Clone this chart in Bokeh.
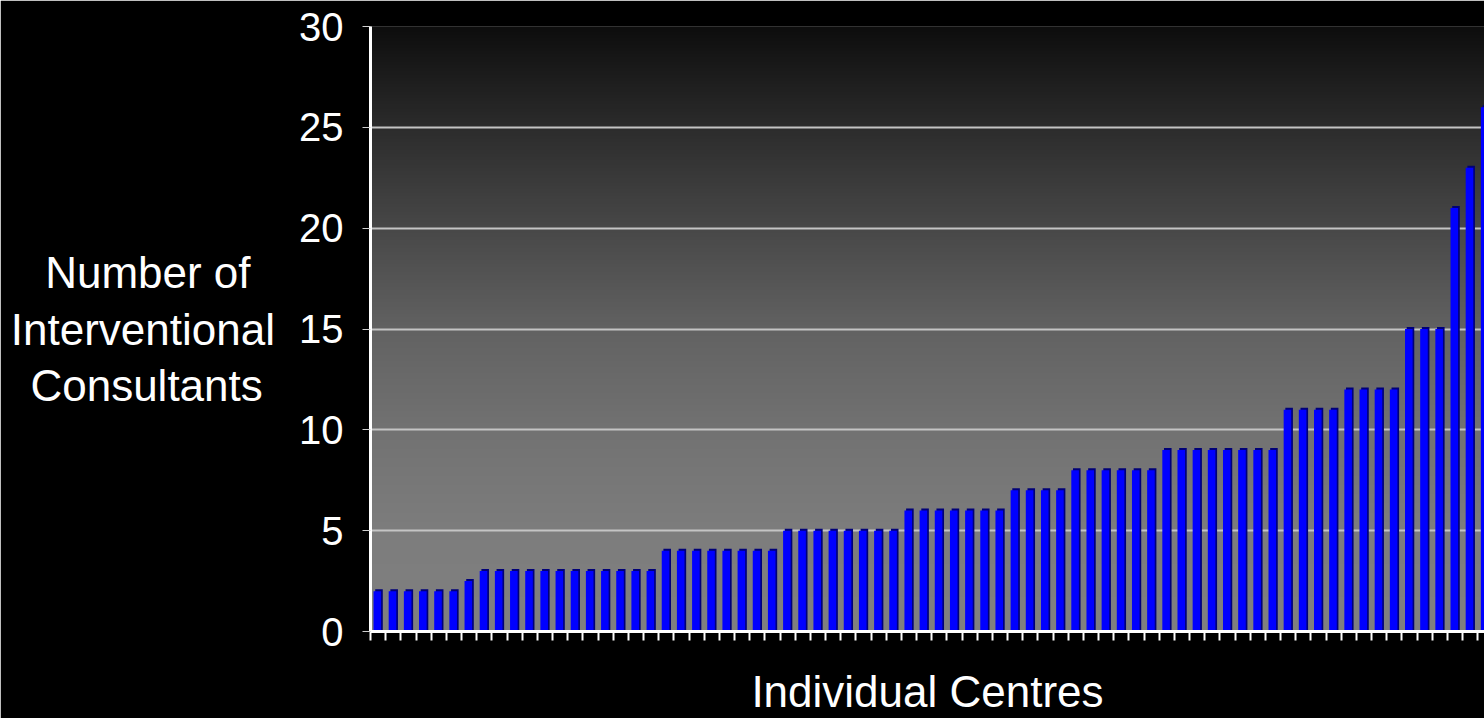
import numpy as np
from bokeh.plotting import figure
from bokeh.models import Range1d, FixedTicker, ColumnDataSource
from bokeh.embed import file_html
from bokeh.resources import INLINE

# ---- data -------------------------------------------------------------
consultants = [2, 2, 2, 2, 2, 2, 2.5,
               3, 3, 3, 3, 3, 3, 3, 3, 3, 3, 3, 3,
               4, 4, 4, 4, 4, 4, 4, 4,
               5, 5, 5, 5, 5, 5, 5, 5,
               6, 6, 6, 6, 6, 6, 6,
               7, 7, 7, 7,
               8, 8, 8, 8, 8, 8,
               9, 9, 9, 9, 9, 9, 9, 9,
               11, 11, 11, 11,
               12, 12, 12, 12,
               15, 15, 15,
               21, 23, 26]
y_ticks = [0, 5, 10, 15, 20, 25, 30]
# trailing no-break spaces visually centre the shorter lines
y_label = "Number of\u00a0\u00a0\nInterventional\nConsultants\u00a0"
x_label = "Individual Centres"

FONT = "Liberation Sans"
n = len(consultants)
idx = np.arange(n)
x_end = n - 0.56

p = figure(width=1484, height=718, output_backend="svg", toolbar_location=None,
           x_range=Range1d(0, x_end), y_range=Range1d(0, 30),
           min_border_left=370, min_border_right=0, min_border_top=26,
           min_border_bottom=87)
p.background_fill_color = "black"
p.border_fill_color = "black"
p.outline_line_color = None

# gradient background for plot area (style only)
levels = np.array([0, 5, 10, 15, 20, 25, 30], dtype=float)
grays = np.array([128, 125, 114, 98, 72, 44, 14], dtype=float)
rows = 400
yy = np.linspace(0, 30, rows)
g = np.interp(yy, levels, grays).astype(np.uint32)
img = np.empty((rows, 1), dtype=np.uint32)
img[:, 0] = (255 << 24) | (g << 16) | (g << 8) | g
p.image_rgba(image=[img], x=0, y=0, dw=n, dh=30, level="underlay")

# bars with a simple 3D side
src = ColumnDataSource(dict(
    x=idx + 0.45,
    xs=idx + 0.45 + 0.11,
    top=consultants,
    tops=np.array(consultants) + 0.1,
))
p.vbar(x="xs", top="tops", width=0.5, bottom=0, source=src,
       fill_color="#000078", line_color=None)
p.vbar(x="x", top="top", width=0.5, bottom=0, source=src,
       fill_color="#0000ff", line_color=None)

# grid
p.xgrid.visible = False
p.ygrid.ticker = FixedTicker(ticks=y_ticks)
p.ygrid.grid_line_color = "#c4c4c4"
p.ygrid.grid_line_width = 2
p.ygrid.level = "underlay"

# y axis
ya = p.yaxis[0]
ya.ticker = FixedTicker(ticks=y_ticks)
ya.axis_line_color = "white"
ya.axis_line_width = 3
ya.major_tick_line_color = "#d0d0d0"
ya.major_tick_out = 8
ya.major_tick_in = 0
ya.minor_tick_line_color = None
ya.major_label_text_color = "white"
ya.major_label_text_font = FONT
ya.major_label_text_font_size = "40px"
ya.major_label_standoff = 19
ya.axis_label = y_label
ya.axis_label_orientation = "horizontal"
ya.axis_label_text_color = "white"
ya.axis_label_text_font = FONT
ya.axis_label_text_font_size = "44px"
ya.axis_label_text_font_style = "normal"
ya.axis_label_text_line_height = 1.15
ya.axis_label_standoff = 21

# x axis: only unlabeled (minor) ticks between centres
xa = p.xaxis[0]
xa.ticker = FixedTicker(ticks=[], minor_ticks=list(range(n)))
xa.axis_line_color = "white"
xa.axis_line_width = 3
xa.major_tick_line_color = None
xa.minor_tick_line_color = "white"
xa.minor_tick_line_width = 2
xa.minor_tick_out = 9
xa.minor_tick_in = 0
xa.axis_label = x_label
xa.axis_label_text_color = "white"
xa.axis_label_text_font = FONT
xa.axis_label_text_font_size = "44px"
xa.axis_label_text_font_style = "normal"
xa.axis_label_standoff = 26

open("out.html", "w").write(file_html(p, INLINE))
